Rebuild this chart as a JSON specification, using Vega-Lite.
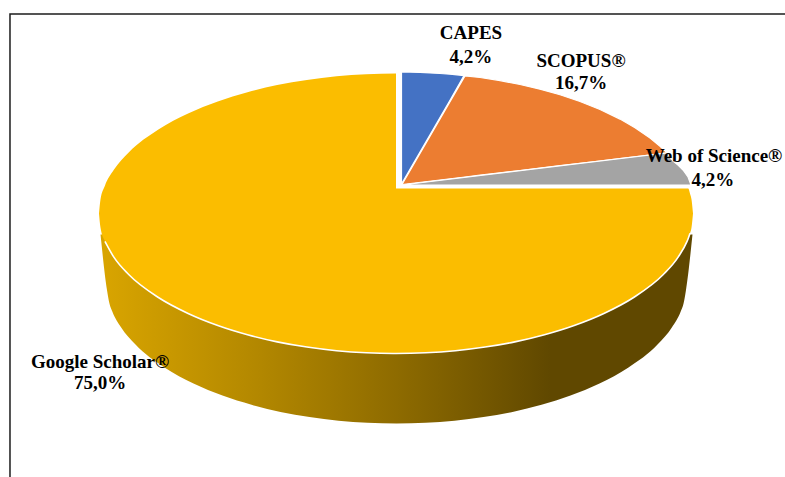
{
  "$schema": "https://vega.github.io/schema/vega-lite/v6.json",
  "width": 785,
  "height": 477,
  "padding": 0,
  "autosize": "none",
  "background": "#ffffff",
  "config": {
    "view": {"stroke": null},
    "locale": {"number": {"decimal": ",", "thousands": ".", "grouping": [3], "currency": ["", " €"]}}
  },
  "datasets": {
    "scholar": [
      {"slice":"Google Scholar®","part":"left","u":-1,"v":0,"v2":0},
      {"slice":"Google Scholar®","part":"left","u":-0.995,"v":0.0999,"v2":-0.0999},
      {"slice":"Google Scholar®","part":"left","u":-0.98,"v":0.199,"v2":-0.199},
      {"slice":"Google Scholar®","part":"left","u":-0.95,"v":0.312,"v2":-0.312},
      {"slice":"Google Scholar®","part":"left","u":-0.9,"v":0.436,"v2":-0.436},
      {"slice":"Google Scholar®","part":"left","u":-0.8,"v":0.6,"v2":-0.6},
      {"slice":"Google Scholar®","part":"left","u":-0.7,"v":0.714,"v2":-0.714},
      {"slice":"Google Scholar®","part":"left","u":-0.6,"v":0.8,"v2":-0.8},
      {"slice":"Google Scholar®","part":"left","u":-0.5,"v":0.866,"v2":-0.866},
      {"slice":"Google Scholar®","part":"left","u":-0.4,"v":0.917,"v2":-0.917},
      {"slice":"Google Scholar®","part":"left","u":-0.3,"v":0.954,"v2":-0.954},
      {"slice":"Google Scholar®","part":"left","u":-0.2,"v":0.98,"v2":-0.98},
      {"slice":"Google Scholar®","part":"left","u":-0.1,"v":0.995,"v2":-0.995},
      {"slice":"Google Scholar®","part":"left","u":0,"v":1,"v2":-1},
      {"slice":"Google Scholar®","part":"right","u":-0.01,"v":0.1786,"v2":-1},
      {"slice":"Google Scholar®","part":"right","u":0.1,"v":0.1786,"v2":-0.995},
      {"slice":"Google Scholar®","part":"right","u":0.2,"v":0.1786,"v2":-0.98},
      {"slice":"Google Scholar®","part":"right","u":0.3,"v":0.1786,"v2":-0.954},
      {"slice":"Google Scholar®","part":"right","u":0.4,"v":0.1786,"v2":-0.917},
      {"slice":"Google Scholar®","part":"right","u":0.5,"v":0.1786,"v2":-0.866},
      {"slice":"Google Scholar®","part":"right","u":0.6,"v":0.1786,"v2":-0.8},
      {"slice":"Google Scholar®","part":"right","u":0.7,"v":0.1786,"v2":-0.714},
      {"slice":"Google Scholar®","part":"right","u":0.8,"v":0.1786,"v2":-0.6},
      {"slice":"Google Scholar®","part":"right","u":0.9,"v":0.1786,"v2":-0.436},
      {"slice":"Google Scholar®","part":"right","u":0.95,"v":0.1786,"v2":-0.312},
      {"slice":"Google Scholar®","part":"right","u":0.98,"v":0.1786,"v2":-0.199},
      {"slice":"Google Scholar®","part":"right","u":0.984,"v":0.1786,"v2":-0.178},
      {"slice":"Google Scholar®","part":"right","u":0.99,"v":0.141,"v2":-0.141},
      {"slice":"Google Scholar®","part":"right","u":0.995,"v":0.0999,"v2":-0.0999},
      {"slice":"Google Scholar®","part":"right","u":1,"v":0,"v2":0}
    ],
    "others": [
      {"slice":"CAPES","u":0.0185,"v":1.0107,"v2":0.2107},
      {"slice":"CAPES","u":0.0471,"v":1.01,"v2":0.3157},
      {"slice":"CAPES","u":0.0808,"v":1.0079,"v2":0.4393},
      {"slice":"CAPES","u":0.1145,"v":1.0043,"v2":0.5621},
      {"slice":"CAPES","u":0.1481,"v":1,"v2":0.6857},
      {"slice":"CAPES","u":0.1818,"v":0.995,"v2":0.8093},
      {"slice":"CAPES","u":0.229,"v":0.985,"v2":0.985},
      {"slice":"SCOPUS®","u":0.0202,"v":0.2071,"v2":0.2071},
      {"slice":"SCOPUS®","u":0.2323,"v":0.9821,"v2":0.2607},
      {"slice":"SCOPUS®","u":0.2828,"v":0.9714,"v2":0.2736},
      {"slice":"SCOPUS®","u":0.3502,"v":0.9493,"v2":0.2907},
      {"slice":"SCOPUS®","u":0.4175,"v":0.9214,"v2":0.3071},
      {"slice":"SCOPUS®","u":0.4848,"v":0.8879,"v2":0.3243},
      {"slice":"SCOPUS®","u":0.5522,"v":0.8479,"v2":0.3414},
      {"slice":"SCOPUS®","u":0.6195,"v":0.8,"v2":0.3586},
      {"slice":"SCOPUS®","u":0.6869,"v":0.7429,"v2":0.375},
      {"slice":"SCOPUS®","u":0.7542,"v":0.6743,"v2":0.3921},
      {"slice":"SCOPUS®","u":0.8047,"v":0.6121,"v2":0.405},
      {"slice":"SCOPUS®","u":0.8552,"v":0.5393,"v2":0.4179},
      {"slice":"SCOPUS®","u":0.8889,"v":0.4807,"v2":0.4264},
      {"slice":"SCOPUS®","u":0.9125,"v":0.4336,"v2":0.4336},
      {"slice":"Web of Science®","u":0.0202,"v":0.2036,"v2":0.2036},
      {"slice":"Web of Science®","u":0.9125,"v":0.4321,"v2":0.2036},
      {"slice":"Web of Science®","u":0.9327,"v":0.375,"v2":0.2036},
      {"slice":"Web of Science®","u":0.9495,"v":0.3464,"v2":0.2036},
      {"slice":"Web of Science®","u":0.9663,"v":0.3107,"v2":0.2036},
      {"slice":"Web of Science®","u":0.9832,"v":0.2607,"v2":0.2036},
      {"slice":"Web of Science®","u":0.9933,"v":0.2036,"v2":0.2036}
    ],
    "wall": [
      {"u":-0.9949,"v":-0.15,"v2":-0.15},
      {"u":-0.9731,"v":-0.15,"v2":-0.5464},
      {"u":-0.965,"v":-0.15,"v2":-0.6407},
      {"u":-0.9552,"v":-0.15,"v2":-0.6993},
      {"u":-0.9259,"v":-0.15,"v2":-0.8121},
      {"u":-0.8771,"v":-0.15,"v2":-0.9357},
      {"u":-0.7795,"v":-0.15,"v2":-1.1},
      {"u":-0.6818,"v":-0.15,"v2":-1.2143},
      {"u":-0.5842,"v":-0.15,"v2":-1.3},
      {"u":-0.4865,"v":-0.15,"v2":-1.3657},
      {"u":-0.3889,"v":-0.15,"v2":-1.4171},
      {"u":-0.2912,"v":-0.15,"v2":-1.4536},
      {"u":-0.1936,"v":-0.15,"v2":-1.48},
      {"u":-0.096,"v":-0.15,"v2":-1.495},
      {"u":0.0017,"v":-0.15,"v2":-1.5},
      {"u":0.0993,"v":-0.15,"v2":-1.495},
      {"u":0.197,"v":-0.15,"v2":-1.48},
      {"u":0.2946,"v":-0.15,"v2":-1.4536},
      {"u":0.3923,"v":-0.15,"v2":-1.4171},
      {"u":0.4899,"v":-0.15,"v2":-1.3657},
      {"u":0.5875,"v":-0.15,"v2":-1.3},
      {"u":0.6852,"v":-0.15,"v2":-1.2143},
      {"u":0.7828,"v":-0.15,"v2":-1.1},
      {"u":0.8805,"v":-0.15,"v2":-0.9357},
      {"u":0.9293,"v":-0.15,"v2":-0.8121},
      {"u":0.9586,"v":-0.15,"v2":-0.6993},
      {"u":0.9684,"v":-0.15,"v2":-0.6407},
      {"u":0.9764,"v":-0.15,"v2":-0.5464},
      {"u":0.9983,"v":-0.15,"v2":-0.15}
    ],
    "frame": [
      {"step":1,"u":-1.2997,"v":-1.8821},
      {"step":2,"u":-1.2997,"v":1.425},
      {"step":3,"u":1.3098,"v":1.425}
    ],
    "labels": [
      {"name":"CAPES","share":0.042,"u":0.2525,"v":1.2893,"shareU":0.2525,"shareV":1.1179},
      {"name":"SCOPUS®","share":0.167,"u":0.6229,"v":1.0893,"shareU":0.6229,"shareV":0.9321},
      {"name":"Web of Science®","share":0.042,"u":1.0707,"v":0.4107,"shareU":1.0673,"shareV":0.2393},
      {"name":"Google Scholar®","share":0.75,"u":-0.9966,"v":-1.0607,"shareU":-0.9966,"shareV":-1.2107}
    ]
  },
  "encoding": {
    "x": {"field":"u","type":"quantitative","axis":null,"scale":{"domain":[-1.33333,1.30976],"nice":false,"zero":false}},
    "y": {"field":"v","type":"quantitative","axis":null,"scale":{"domain":[-1.88214,1.525],"nice":false,"zero":false}}
  },
  "layer": [
    {
      "data": {"name":"frame"},
      "mark": {"type":"line","color":"#1c1c1c","strokeWidth":1.5,"clip":false},
      "encoding": {"order":{"field":"step","type":"quantitative"}}
    },
    {
      "data": {"name":"wall"},
      "mark": {
        "type":"area","orient":"vertical","interpolate":"monotone",
        "fill":{
          "gradient":"linear","x1":0,"y1":0,"x2":1,"y2":0,
          "stops":[
            {"offset":0,"color":"#d9a500"},
            {"offset":0.27,"color":"#b28700"},
            {"offset":0.5,"color":"#8e6b00"},
            {"offset":0.76,"color":"#604800"},
            {"offset":1,"color":"#604800"}
          ]
        }
      },
      "encoding": {"y2":{"field":"v2"}}
    },
    {
      "data": {"name":"scholar"},
      "mark": {"type":"area","orient":"vertical","interpolate":"monotone"},
      "encoding": {
        "y2":{"field":"v2"},
        "detail":{"field":"part"},
        "color":{"field":"slice","type":"nominal","legend":null,
          "scale":{"domain":["CAPES","SCOPUS®","Web of Science®","Google Scholar®"],"range":["#4472c4","#ec7d31","#a4a4a4","#fbbd00"]}}
      }
    },
    {
      "data": {"name":"scholar"},
      "transform": [{"filter":"datum.v2 < -0.14"}],
      "mark": {"type":"line","interpolate":"monotone","color":"#ffffff","strokeWidth":1.6},
      "encoding": {"y":{"field":"v2","type":"quantitative"}}
    },
    {
      "data": {"name":"others"},
      "mark": {"type":"area","orient":"vertical","stroke":"#ffffff","strokeWidth":1.2},
      "encoding": {
        "y2":{"field":"v2"},
        "color":{"field":"slice","type":"nominal","legend":null,
          "scale":{"domain":["CAPES","SCOPUS®","Web of Science®","Google Scholar®"],"range":["#4472c4","#ec7d31","#a4a4a4","#fbbd00"]}}
      }
    },
    {
      "data": {"name":"labels"},
      "mark": {"type":"text","font":"Liberation Serif","fontWeight":"bold","fontSize":19,"color":"#000000","align":"center","baseline":"middle"},
      "encoding": {"text":{"field":"name","type":"nominal"}}
    },
    {
      "data": {"name":"labels"},
      "mark": {"type":"text","font":"Liberation Serif","fontWeight":"bold","fontSize":19,"color":"#000000","align":"center","baseline":"middle"},
      "encoding": {
        "x":{"field":"shareU","type":"quantitative"},
        "y":{"field":"shareV","type":"quantitative"},
        "text":{"field":"share","type":"quantitative","format":".1%"}
      }
    }
  ]
}
